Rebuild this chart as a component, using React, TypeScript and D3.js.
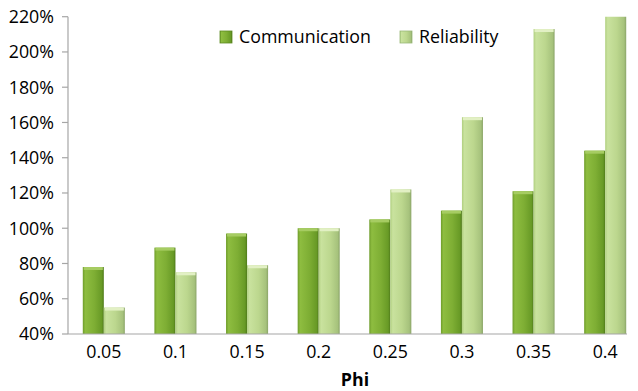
import React from "react";
import * as d3 from "d3";

const categories = ["0.05", "0.1", "0.15", "0.2", "0.25", "0.3", "0.35", "0.4"];
const communication = [78, 89, 97, 100, 105, 110, 121, 144];
const reliability = [55, 75, 79, 100, 122, 163, 213, 270];
const seriesNames = ["Communication", "Reliability"];
const yTicks = [40, 60, 80, 100, 120, 140, 160, 180, 200, 220];

const W = 638;
const H = 391;
const left = 68;
const top = 16.7;
const bottom = 334;
const rightEnd = 641;
const axisEnd = 627;
const font = "'Open Sans', sans-serif";
const fs = 17.8;

export default function App() {
  const x = d3
    .scaleBand<string>()
    .domain(categories)
    .range([left, rightEnd])
    .paddingInner(0.413)
    .paddingOuter(0.2065);
  const xs = d3.scaleBand<string>().domain(seriesNames).range([0, x.bandwidth()]);
  const y = d3.scaleLinear().domain([40, 220]).range([bottom, top]);

  const data = [communication, reliability];
  const fills = ["url(#gComm)", "url(#gRel)"];
  const caps = ["#a6cc62", "#e2f0c4"];

  return (
    <svg width={W} height={H} style={{ position: "absolute", left: 0, top: 0, background: "#fff" }}>
      <defs>
        <linearGradient id="gComm" x1="0" x2="1" y1="0" y2="0">
          <stop offset="0" stopColor="#6e9c2a" />
          <stop offset="0.12" stopColor="#8ebd40" />
          <stop offset="0.55" stopColor="#7eae34" />
          <stop offset="0.9" stopColor="#689a26" />
          <stop offset="1" stopColor="#4f7a1a" />
        </linearGradient>
        <linearGradient id="gRel" x1="0" x2="1" y1="0" y2="0">
          <stop offset="0" stopColor="#b0cf80" />
          <stop offset="0.12" stopColor="#c9e29e" />
          <stop offset="0.55" stopColor="#bcd78e" />
          <stop offset="0.9" stopColor="#a6c27c" />
          <stop offset="1" stopColor="#8aa468" />
        </linearGradient>
        <clipPath id="plotClip">
          <rect x={left} y={top} width={W - left} height={bottom - top} />
        </clipPath>
      </defs>

      {/* y axis */}
      <line x1={left} x2={left} y1={top} y2={bottom} stroke="#a6a6a6" strokeWidth={1.2} />
      {yTicks.map((t) => (
        <g key={t}>
          <line x1={left - 6} x2={left} y1={y(t)} y2={y(t)} stroke="#a6a6a6" strokeWidth={1.2} />
          <text
            x={left - 14}
            y={y(t)}
            dy="0.36em"
            textAnchor="end"
            fontFamily={font}
            fontSize={fs}
            fill="#000"
          >
            {t}%
          </text>
        </g>
      ))}

      {/* bars */}
      <g clipPath="url(#plotClip)">
        {categories.map((c, i) =>
          seriesNames.map((s, k) => {
            const bx = (x(c) ?? 0) + (xs(s) ?? 0);
            const bw = xs.bandwidth();
            const by = y(data[k][i]);
            return (
              <g key={c + s}>
                <rect x={bx} y={by} width={bw} height={bottom - by} fill={fills[k]} />
                <rect x={bx + 1} y={by} width={bw - 2} height={3} fill={caps[k]} />
              </g>
            );
          })
        )}
      </g>

      {/* x axis */}
      <line x1={left} x2={axisEnd} y1={bottom} y2={bottom} stroke="#a6a6a6" strokeWidth={1.2} />
      {categories.map((c) => (
        <text
          key={c}
          x={(x(c) ?? 0) + x.bandwidth() / 2}
          y={357.5}
          textAnchor="middle"
          fontFamily={font}
          fontSize={fs}
          fill="#000"
        >
          {c}
        </text>
      ))}
      <text x={355} y={385.5} textAnchor="middle" fontFamily={font} fontSize={fs} fontWeight="bold" fill="#000">
        Phi
      </text>

      {/* legend */}
      {seriesNames.map((s, k) => {
        const lx = [220, 400][k];
        return (
          <g key={s}>
            <rect x={lx} y={31} width={12} height={12} fill={fills[k]} stroke={k === 0 ? "#5d8a22" : "#9ab878"} strokeWidth={0.8} />
            <text x={lx + 19} y={37} dy="0.36em" fontFamily={font} fontSize={fs} fill="#000">
              {s}
            </text>
          </g>
        );
      })}
    </svg>
  );
}
